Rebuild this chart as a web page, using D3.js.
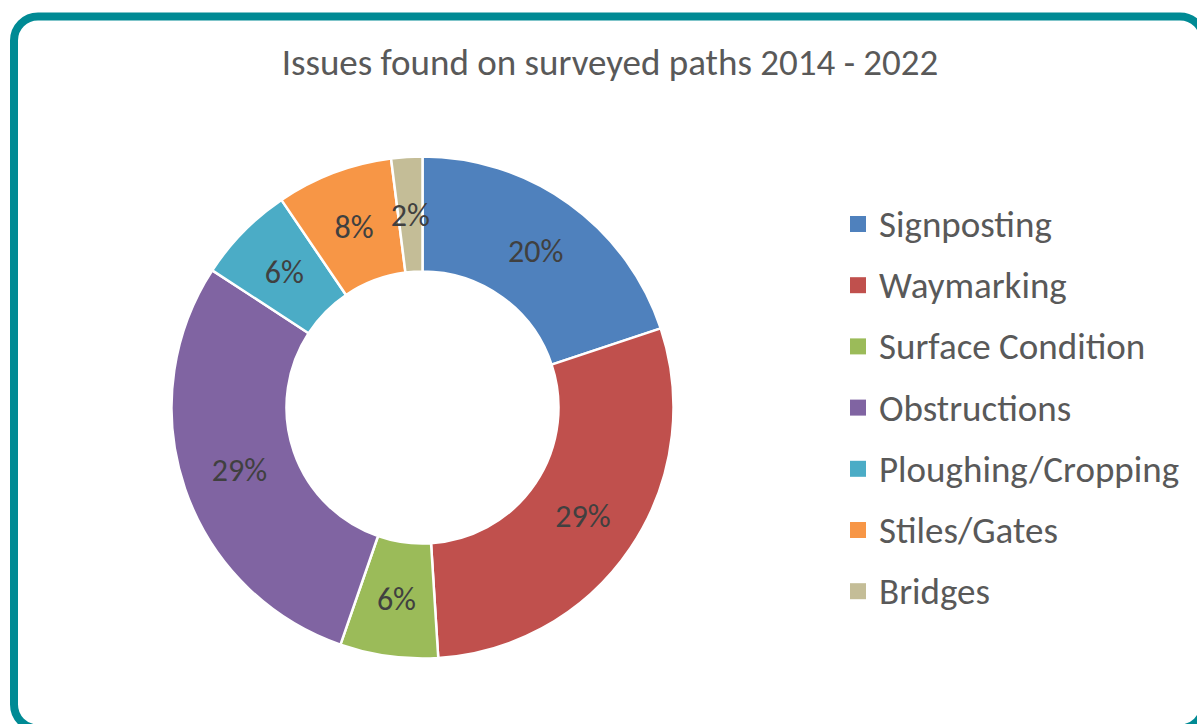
<!DOCTYPE html>
<html>
<head>
<meta charset="utf-8">
<script src="https://cdn.jsdelivr.net/npm/d3@7"></script>
<style>
html,body{margin:0;padding:0;background:#fff;}
svg{display:block;}
</style>
</head>
<body>
<svg id="chart" width="1197" height="724"></svg>
<script>
const categories = ["Signposting","Waymarking","Surface Condition","Obstructions","Ploughing/Cropping","Stiles/Gates","Bridges"];
const values = [19.9, 29.1, 6.3, 28.9, 6.3, 7.5, 2.0];
const colors = ["#4F81BD","#C0504D","#9BBB59","#8064A2","#4BACC6","#F79646","#C4BD97"];
const title = "Issues found on surveyed paths 2014 - 2022";

const FONT = "Carlito, Calibri, Lato, 'Open Sans', sans-serif";
const svg = d3.select("#chart");

// frame
svg.append("rect")
  .attr("x", 14).attr("y", 16.5)
  .attr("width", 1190).attr("height", 712)
  .attr("rx", 24).attr("ry", 24)
  .attr("fill", "#fff")
  .attr("stroke", "#008A94").attr("stroke-width", 8);

svg.append("text")
  .attr("x", 610).attr("y", 75)
  .attr("text-anchor", "middle")
  .attr("font-family", FONT).attr("font-size", 37)
  .attr("fill", "#595959")
  .text(title);

const data = categories.map((c, i) => ({name: c, value: values[i], color: colors[i]}));
const total = d3.sum(values);
const cx = 422.5, cy = 407.5, rOuter = 251, rInner = 136;

const pie = d3.pie().value(d => d.value).sort(null);
const arc = d3.arc().innerRadius(rInner).outerRadius(rOuter);
const labelArc = d3.arc().innerRadius((rInner + rOuter) / 2).outerRadius((rInner + rOuter) / 2);

const g = svg.append("g").attr("transform", `translate(${cx},${cy})`);
const arcs = pie(data);
g.selectAll("path").data(arcs).join("path")
  .attr("d", arc)
  .attr("fill", d => d.data.color)
  .attr("stroke", "#fff").attr("stroke-width", 2.5)
  .attr("stroke-linejoin", "round");

g.selectAll("text.lbl").data(arcs).join("text")
  .attr("class", "lbl")
  .attr("transform", d => `translate(${labelArc.centroid(d)})`)
  .attr("text-anchor", "middle")
  .attr("dy", "0.35em")
  .attr("font-family", FONT).attr("font-size", 32)
  .attr("fill", "#404040")
  .text(d => Math.round(d.data.value / total * 100) + "%");

// legend
const legend = svg.append("g").attr("transform", "translate(850,224)");
const item = legend.selectAll("g").data(data).join("g")
  .attr("transform", (d, i) => `translate(0,${i * 61.2})`);
item.append("rect")
  .attr("x", 0).attr("y", -8).attr("width", 16).attr("height", 16)
  .attr("fill", d => d.color);
item.append("text")
  .attr("x", 29).attr("y", 0).attr("dy", "0.35em")
  .attr("font-family", FONT).attr("font-size", 37)
  .attr("fill", "#595959")
  .text(d => d.name);
</script>
</body>
</html>
